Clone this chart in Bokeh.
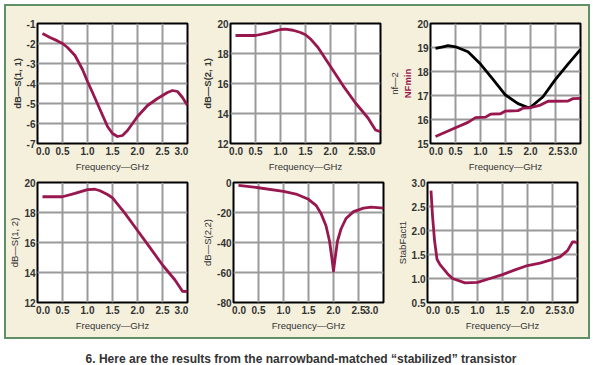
from bokeh.plotting import figure
from bokeh.layouts import column, row
from bokeh.models import Range1d, FixedTicker, PrintfTickFormatter, Title, Div, Spacer
from bokeh.embed import file_html
from bokeh.resources import INLINE

# ---------------- data ----------------
x_ticks = [0.0, 0.5, 1.0, 1.5, 2.0, 2.5, 3.0]

f_s11 = [0.1, 0.25, 0.4, 0.5, 0.6, 0.75, 0.9, 1.0, 1.1, 1.25, 1.4, 1.5, 1.6, 1.7, 1.8, 2.0, 2.2, 2.4, 2.6, 2.7, 2.8, 2.9, 3.0]
s11 = [-1.5, -1.7, -1.87, -2.0, -2.2, -2.6, -3.3, -3.9, -4.45, -5.3, -6.15, -6.5, -6.65, -6.6, -6.35, -5.65, -5.1, -4.75, -4.45, -4.35, -4.4, -4.7, -5.1]

f_s21 = [0.1, 0.3, 0.5, 0.75, 1.0, 1.1, 1.25, 1.4, 1.5, 1.6, 1.75, 2.0, 2.25, 2.5, 2.75, 2.9, 3.0]
s21 = [19.2, 19.2, 19.2, 19.38, 19.6, 19.62, 19.55, 19.4, 19.25, 18.97, 18.4, 17.13, 15.86, 14.7, 13.7, 12.9, 12.78]

f_nf2 = [0.1, 0.25, 0.35, 0.5, 0.75, 1.0, 1.25, 1.5, 1.75, 1.95, 2.0, 2.25, 2.5, 2.75, 3.0]
nf2 = [18.96, 19.03, 19.08, 19.03, 18.82, 18.31, 17.67, 17.02, 16.66, 16.5, 16.51, 16.95, 17.67, 18.31, 18.92]

f_nfmin = [0.1, 0.5, 0.75, 0.9, 1.1, 1.2, 1.4, 1.5, 1.75, 1.85, 2.0, 2.2, 2.35, 2.75, 2.85, 3.0]
nfmin = [15.29, 15.66, 15.88, 16.08, 16.1, 16.22, 16.24, 16.35, 16.37, 16.47, 16.49, 16.6, 16.76, 16.77, 16.87, 16.88]

f_s12 = [0.1, 0.3, 0.5, 0.75, 1.0, 1.15, 1.25, 1.4, 1.5, 1.75, 2.0, 2.25, 2.5, 2.75, 2.9, 3.0]
s12 = [19.05, 19.05, 19.05, 19.27, 19.52, 19.55, 19.45, 19.2, 18.97, 17.94, 16.8, 15.66, 14.5, 13.5, 12.75, 12.72]

f_s22 = [0.1, 0.5, 1.0, 1.25, 1.5, 1.65, 1.75, 1.85, 1.92, 1.97, 2.0, 2.03, 2.08, 2.15, 2.25, 2.4, 2.6, 2.75, 3.0]
s22 = [-1.9, -3.5, -5.9, -7.7, -11.2, -15.2, -20.6, -28.8, -39, -51, -59, -51, -39, -31, -24, -19.4, -17.1, -16.4, -17.1]

f_stab = [0.07, 0.1, 0.14, 0.19, 0.25, 0.4, 0.5, 0.75, 1.0, 1.25, 1.5, 1.75, 2.0, 2.25, 2.5, 2.65, 2.8, 2.9, 2.95, 3.0]
stab = [2.83, 2.31, 1.8, 1.4, 1.29, 1.1, 1.0, 0.91, 0.92, 1.0, 1.08, 1.18, 1.27, 1.32, 1.4, 1.45, 1.58, 1.76, 1.76, 1.74]

caption = "6. Here are the results from the narrowband-matched \u201cstabilized\u201d transistor"

# ---------------- style ----------------
BEIGE = "#f4f0dc"
GREEN = "#5f9066"
CURVE = "#98174f"
GRID = "#9a9a9a"
TXT = "#333333"
FONT = "Liberation Sans"
LW = 2.8
NB = "\u00a0"


def make_fig(left, right, top, bottom, yr, yticks, yfmt, ylabel, ybold=False):
    p = figure(frame_width=150, frame_height=120, output_backend="svg", toolbar_location=None,
               x_range=Range1d(0, 3), y_range=Range1d(*yr),
               min_border_left=left, min_border_right=right,
               min_border_top=top, min_border_bottom=bottom)
    p.background_fill_color = "white"
    p.border_fill_color = BEIGE
    p.outline_line_color = "black"
    p.outline_line_width = 2
    p.xaxis.ticker = FixedTicker(ticks=x_ticks)
    p.xaxis.formatter = PrintfTickFormatter(format="%.1f")
    p.xaxis.major_label_overrides = {0: NB * 4 + "0.0", 3: "3.0" + NB * 4}
    p.yaxis.ticker = FixedTicker(ticks=yticks)
    p.yaxis.formatter = PrintfTickFormatter(format=yfmt)
    for ax in (p.xaxis, p.yaxis):
        ax.axis_line_color = None
        ax.major_tick_line_color = None
        ax.minor_tick_line_color = None
        ax.major_tick_out = 0
        ax.major_tick_in = 0
        ax.minor_tick_out = 0
        ax.minor_tick_in = 0
        ax.major_label_text_font = FONT
        ax.major_label_text_font_size = "10px"
        ax.major_label_text_font_style = "bold"
        ax.major_label_text_color = TXT
        ax.major_label_standoff = 2
        ax.axis_label_text_font = FONT
        ax.axis_label_text_font_size = "9.5px"
        ax.axis_label_text_font_style = "normal"
        ax.axis_label_text_color = TXT
        ax.axis_label_standoff = 1
    p.xaxis.axis_label = "Frequency\u2014GHz"
    p.yaxis.axis_label = ylabel
    if ybold:
        p.yaxis.axis_label_text_font_style = "bold"
    p.grid.grid_line_color = GRID
    p.grid.grid_line_width = 2
    p.xgrid.ticker = FixedTicker(ticks=x_ticks)
    p.ygrid.ticker = FixedTicker(ticks=yticks)
    return p


p1 = make_fig(31, 12, 17, 29, (-7, -1), [-7, -6, -5, -4, -3, -2, -1], "%d", "dB\u2014S(1, 1)", True)
p1.line(f_s11, s11, line_color=CURVE, line_width=LW, line_join="round")

p2 = make_fig(31, 6, 17, 29, (12, 20), [12, 14, 16, 18, 20], "%d", "dB\u2014S(2, 1)", True)
p2.line(f_s21, s21, line_color=CURVE, line_width=LW, line_join="round")

p3 = make_fig(38, 8, 17, 29, (15, 20), [15, 16, 17, 18, 19, 20], "%d", "NFmin")
p3.yaxis.axis_label_text_color = CURVE
p3.yaxis.axis_label_text_font_style = "bold"
p3.add_layout(Title(text="nf\u20142", align="center", text_font=FONT, text_font_size="9.5px",
                    text_font_style="normal", text_color=TXT, standoff=0), "left")
p3.line(f_nf2, nf2, line_color="black", line_width=LW, line_join="round")
p3.line(f_nfmin, nfmin, line_color=CURVE, line_width=LW, line_join="round")

p4 = make_fig(31, 12, 8, 35, (12, 20), [12, 14, 16, 18, 20], "%d", "dB\u2014S(1, 2)")
p4.line(f_s12, s12, line_color=CURVE, line_width=LW, line_join="round")

p5 = make_fig(31, 6, 8, 35, (-80, 0), [-80, -60, -40, -20, 0], "%d", "dB\u2014S(2,2)")
p5.line(f_s22, s22, line_color=CURVE, line_width=LW, line_join="round")

p6 = make_fig(38, 8, 8, 35, (0.5, 3.0), [0.5, 1.0, 1.5, 2.0, 2.5, 3.0], "%.1f", "StabFact1")
p6.line(f_stab, stab, line_color=CURVE, line_width=LW, line_join="round")

box = column(row(p1, p2, p3), row(p4, p5, p6),
             styles={"border": "2px solid " + GREEN, "background-color": BEIGE})

cap = Div(text='<div style="text-align:center;width:584px;margin-top:9px;font-family:\'Liberation Sans Narrow\',\'Liberation Sans\',sans-serif;'
               'font-weight:bold;font-size:12px;line-height:13px;color:#333;">' + caption + '</div>',
          width=584, height=22)

layout = column(Spacer(height=4), row(Spacer(width=4), column(box, cap)))

open("out.html", "w").write(file_html(layout, INLINE))
